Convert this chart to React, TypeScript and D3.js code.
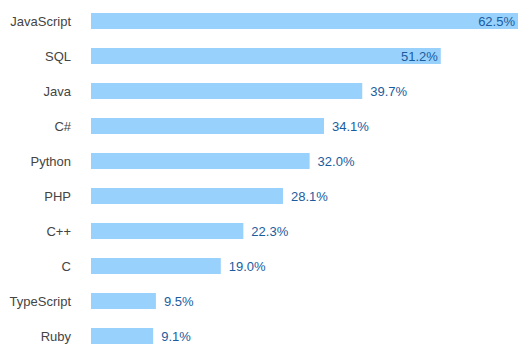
import React from "react";
import * as d3 from "d3";

const categories = ["JavaScript", "SQL", "Java", "C#", "Python", "PHP", "C++", "C", "TypeScript", "Ruby"];
const values = [62.5, 51.2, 39.7, 34.1, 32.0, 28.1, 22.3, 19.0, 9.5, 9.1];

const W = 531;
const H = 360;
const left = 91;

export default function App() {
  const x = d3.scaleLinear().domain([0, 62.5]).range([0, 427]);
  const y = d3
    .scaleBand<string>()
    .domain(categories)
    .range([3.5, 353.5])
    .paddingInner(19 / 35)
    .paddingOuter(9.5 / 35);
  const bh = y.bandwidth();
  return (
    <svg width={W} height={H} style={{ position: "absolute", left: 0, top: 0, fontFamily: "'Liberation Sans', Arial, sans-serif" }}>
      {categories.map((c, i) => {
        const v = values[i];
        const w = x(v);
        const yy = y(c) as number;
        const inside = v >= 50;
        return (
          <g key={c}>
            <rect x={left} y={yy} width={w} height={bh} fill="#99d1fd" />
            <text x={71} y={yy + bh / 2} dy="0.35em" textAnchor="end" fontSize={13} fill="#444">
              {c}
            </text>
            <text
              x={inside ? left + w - 3 : left + w + 8}
              y={yy + bh / 2}
              dy="0.35em"
              textAnchor={inside ? "end" : "start"}
              fontSize={13}
              fill="#1a5c9e"
            >
              {v.toFixed(1) + "%"}
            </text>
          </g>
        );
      })}
    </svg>
  );
}
